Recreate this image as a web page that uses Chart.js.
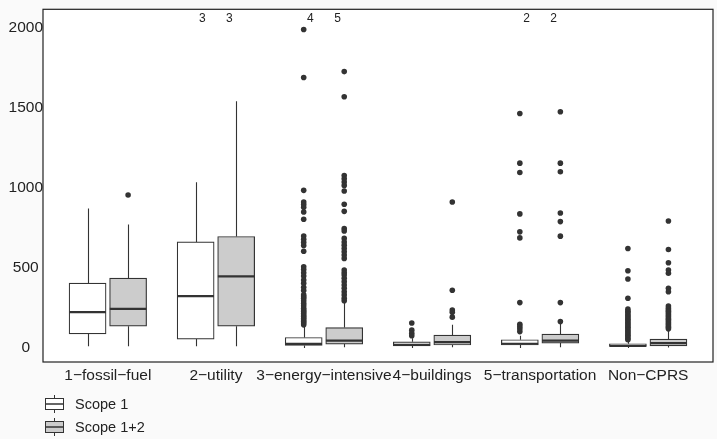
<!DOCTYPE html>
<html>
<head>
<meta charset="utf-8">
<script src="https://cdn.jsdelivr.net/npm/chart.js@4.4.1/dist/chart.umd.min.js"></script>
<style>
  body { margin: 0; background: #fafafa; }
  #wrap { position: relative; width: 717px; height: 439px; }
  .leg { position: absolute; left: 45px; height: 20px; display: flex; align-items: center;
         font-family: "Liberation Sans", Arial, sans-serif; font-size: 14.5px; color: #222; }
  .leg svg { margin-right: 11px; }
</style>
</head>
<body>
<div id="wrap">
  <canvas id="myChart" width="717" height="439"></canvas>
  <div class="leg" style="top:394px">
    <svg width="19" height="20"><line x1="9.5" y1="1" x2="9.5" y2="19" stroke="#333"/><rect x="0.5" y="4.5" width="18" height="11" fill="#fff" stroke="#333"/><line x1="0.5" y1="10" x2="18.5" y2="10" stroke="#333" stroke-width="1.5"/></svg>
    <span>Scope 1</span>
  </div>
  <div class="leg" style="top:417px">
    <svg width="19" height="20"><line x1="9.5" y1="1" x2="9.5" y2="19" stroke="#333"/><rect x="0.5" y="4.5" width="18" height="11" fill="#ccc" stroke="#333"/><line x1="0.5" y1="10" x2="18.5" y2="10" stroke="#333" stroke-width="1.5"/></svg>
    <span>Scope 1+2</span>
  </div>
</div>
<script>
const categories = ["1−fossil−fuel", "2−utility", "3−energy−intensive", "4−buildings", "5−transportation", "Non−CPRS"];

// Scope 1 box stats
const scope1Low = [12, 12, 0, 0, 0, 0];
const scope1Q1 = [89, 56, 16, 14, 19, 10];
const scope1Median = [224, 325, 26, 20, 27, 13];
const scope1Q3 = [406, 663, 66, 39, 52, 27];
const scope1High = [871, 1035, 134, 62, 77, 45];

// Scope 1+2 box stats
const scope12Low = [12, 12, 5, 5, 5, 3];
const scope12Q1 = [137, 137, 25, 19, 31, 14];
const scope12Median = [245, 448, 47, 37, 47, 31];
const scope12Q3 = [437, 697, 128, 81, 87, 56];
const scope12High = [772, 1541, 290, 145, 150, 110];

const scope1Outliers = [
    [],
    [],
    [1990, 1690, 985, 912, 896, 880, 850, 805, 700, 680, 660, 641, 605, 508, 490, 470, 450, 425, 405, 380, 360, 332, 320, 311, 295, 280, 265, 249, 238, 228, 218, 207, 197, 187, 176, 166, 156, 145],
    [157, 112, 93, 77],
    [1465, 1155, 1097, 838, 726, 688, 284, 149, 134, 120, 103],
    [622, 483, 431, 311, 243, 230, 222, 210, 200, 190, 180, 170, 160, 150, 140, 130, 120, 110, 100, 90, 80, 70, 60, 52],
];
const scope12Outliers = [
    [956],
    [],
    [1727, 1570, 1078, 1058, 1037, 1016, 981, 898, 854, 747, 732, 685, 663, 643, 622, 601, 581, 560, 487, 470, 456, 436, 415, 394, 373, 352, 332, 311, 296],
    [912, 361, 238, 224, 193],
    [1476, 1155, 1101, 844, 790, 699, 284, 166],
    [794, 616, 533, 487, 467, 373, 352, 263, 250, 240, 230, 220, 210, 200, 190, 180, 170, 160, 150, 140, 130, 120],
];

// counts printed above the panel
const scope1Counts = [null, 3, 4, null, 2, null];
const scope12Counts = [null, 3, 5, null, 2, null];

const yTicks = [0, 500, 1000, 1500, 2000];

const dodge = 0.1875;
const font = "'Liberation Sans', Arial, sans-serif";

const boxes = (q1, q3, off) => categories.map((c, i) => ({ x: i + 1 + off, y: [q1[i], q3[i]] }));
const points = (outs, off) => outs.flatMap((list, i) => list.map((v) => ({ x: i + 1 + off, y: v })));

const boxPlugin = {
    id: "boxParts",
    beforeDraw(chart) {
        const { ctx, chartArea: a } = chart;
        ctx.save();
        ctx.fillStyle = "#ffffff";
        ctx.fillRect(a.left, a.top, a.right - a.left, a.bottom - a.top);
        ctx.restore();
    },
    beforeDatasetsDraw(chart) {
        const { ctx, scales } = chart;
        const x = scales.x, y = scales.y;
        ctx.save();
        ctx.strokeStyle = "#333333";
        ctx.lineWidth = 1.1;
        const whisk = (low, q1, q3, high, off) => {
            categories.forEach((c, i) => {
                const px = Math.round(x.getPixelForValue(i + 1 + off)) + 0.5;
                ctx.beginPath();
                ctx.moveTo(px, y.getPixelForValue(low[i]));
                ctx.lineTo(px, y.getPixelForValue(q1[i]));
                ctx.moveTo(px, y.getPixelForValue(q3[i]));
                ctx.lineTo(px, y.getPixelForValue(high[i]));
                ctx.stroke();
            });
        };
        whisk(scope1Low, scope1Q1, scope1Q3, scope1High, -dodge);
        whisk(scope12Low, scope12Q1, scope12Q3, scope12High, dodge);
        ctx.restore();
    },
    afterDatasetsDraw(chart) {
        const { ctx, scales, chartArea: a } = chart;
        const x = scales.x, y = scales.y;
        ctx.save();
        ctx.strokeStyle = "#333333";
        ctx.lineWidth = 2.2;
        const half = 18.3;
        const med = (m, off) => {
            categories.forEach((c, i) => {
                const px = x.getPixelForValue(i + 1 + off);
                const py = y.getPixelForValue(m[i]);
                ctx.beginPath();
                ctx.moveTo(px - half, py);
                ctx.lineTo(px + half, py);
                ctx.stroke();
            });
        };
        med(scope1Median, -dodge);
        med(scope12Median, dodge);

        // counts above
        ctx.fillStyle = "#222";
        ctx.font = "12px " + font;
        ctx.textAlign = "center";
        ctx.textBaseline = "middle";
        categories.forEach((c, i) => {
            if (scope1Counts[i] !== null) ctx.fillText(String(scope1Counts[i]), x.getPixelForValue(i + 1 - 0.125), a.top + 9);
            if (scope12Counts[i] !== null) ctx.fillText(String(scope12Counts[i]), x.getPixelForValue(i + 1 + 0.125), a.top + 9);
        });

        // panel border
        ctx.strokeStyle = "#222";
        ctx.lineWidth = 1.2;
        ctx.strokeRect(a.left, a.top, a.right - a.left, a.bottom - a.top);
        ctx.restore();
    },
};

new Chart(document.getElementById("myChart"), {
    type: "bar",
    data: {
        datasets: [
            {
                label: "Scope 1",
                data: boxes(scope1Q1, scope1Q3, -dodge),
                backgroundColor: "#ffffff",
                borderColor: "#333333",
                borderWidth: 1.2,
                borderSkipped: false,
                grouped: false,
                barThickness: 37,
                order: 2,
            },
            {
                label: "Scope 1+2",
                data: boxes(scope12Q1, scope12Q3, dodge),
                backgroundColor: "#cccccc",
                borderColor: "#333333",
                borderWidth: 1.2,
                borderSkipped: false,
                grouped: false,
                barThickness: 37,
                order: 2,
            },
            {
                type: "scatter",
                label: "Scope 1 outliers",
                data: points(scope1Outliers, -dodge),
                backgroundColor: "#333333",
                borderWidth: 0,
                pointRadius: 2.8,
                order: 1,
            },
            {
                type: "scatter",
                label: "Scope 1+2 outliers",
                data: points(scope12Outliers, dodge),
                backgroundColor: "#333333",
                borderWidth: 0,
                pointRadius: 2.8,
                order: 1,
            },
        ],
    },
    options: {
        responsive: false,
        animation: false,
        layout: { padding: { top: 8, right: -2, left: 0, bottom: 0 } },
        plugins: {
            legend: { display: false },
            tooltip: { enabled: false },
        },
        scales: {
            x: {
                type: "linear",
                offset: false,
                min: 0.4,
                max: 6.6,
                afterBuildTicks: (s) => { s.ticks = categories.map((c, i) => ({ value: i + 1 })); },
                afterFit: (s) => { s.height = 77; },
                grid: { display: false, drawTicks: false },
                border: { display: false },
                ticks: {
                    autoSkip: false,
                    maxRotation: 0,
                    padding: 4,
                    color: "#222",
                    font: { family: font, size: 15.5 },
                    callback: (v) => categories[Math.round(v) - 1],
                },
            },
            y: {
                min: -87,
                max: 2116,
                afterBuildTicks: (s) => { s.ticks = yTicks.map((v) => ({ value: v })); },
                afterFit: (s) => { s.width = 43; },
                grid: { display: false, drawTicks: false },
                border: { display: false },
                ticks: {
                    padding: 0,
                    crossAlign: "center",
                    color: "#222",
                    font: { family: font, size: 15.5 },
                    callback: (v) => String(v),
                },
            },
        },
    },
    plugins: [boxPlugin],
});
</script>
</body>
</html>
